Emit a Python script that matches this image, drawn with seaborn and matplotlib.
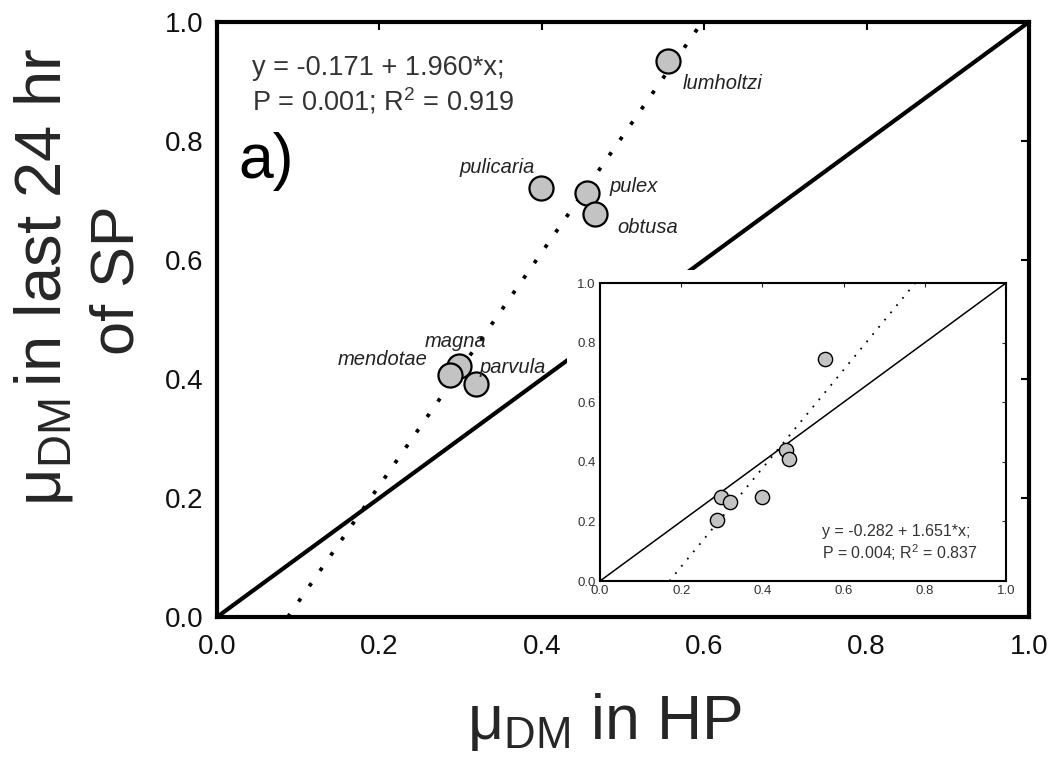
import numpy as np
import pandas as pd
import matplotlib
matplotlib.use("Agg")
import matplotlib.pyplot as plt
from matplotlib.patches import Rectangle
import seaborn as sns

# ---------------- data ----------------
species = ["lumholtzi", "pulicaria", "pulex", "obtusa", "magna", "mendotae", "parvula"]
hp_mu = [0.555, 0.399, 0.456, 0.466, 0.298, 0.287, 0.319]
sp_mu = [0.934, 0.721, 0.713, 0.677, 0.422, 0.407, 0.392]
main_intercept, main_slope = -0.171, 1.960

inset_x = [0.555, 0.457, 0.465, 0.400, 0.299, 0.321, 0.287]
inset_y = [0.744, 0.440, 0.409, 0.282, 0.282, 0.266, 0.205]
inset_intercept, inset_slope = -0.282, 1.651

one_to_one = [0.0, 1.0]
ticks = [0.0, 0.2, 0.4, 0.6, 0.8, 1.0]
tick_labels = ["0.0", "0.2", "0.4", "0.6", "0.8", "1.0"]

main_eq = "y = -0.171 + 1.960*x;\nP = 0.001; R$^2$ = 0.919"
inset_eq = "y = -0.282 + 1.651*x;\nP = 0.004; R$^2$ = 0.837"

# label offsets in pixels (dx, dy, ha)
label_offsets = {
    "lumholtzi": (15, -22, "left"),
    "pulicaria": (-81, 21, "left"),
    "pulex": (22, 6, "left"),
    "obtusa": (22, -13, "left"),
    "magna": (-34, 24, "left"),
    "mendotae": (-22, 15, "right"),
    "parvula": (3, 16, "left"),
}

# ---------------- style ----------------
sns.set_style("white")
plt.rcParams["font.family"] = ["Liberation Sans", "DejaVu Sans"]
plt.rcParams["mathtext.fontset"] = "custom"
plt.rcParams["mathtext.rm"] = "Liberation Sans"
plt.rcParams["mathtext.it"] = "Liberation Sans:italic"
plt.rcParams["mathtext.bf"] = "Liberation Sans:bold"

fig = plt.figure(figsize=(10.6, 7.6), dpi=100)
ax = fig.add_axes([217 / 1060, 1 - 617 / 760, 812 / 1060, 595 / 760])

main_df = pd.DataFrame({"hp": hp_mu, "sp": sp_mu, "species": species})

# 1:1 line
sns.lineplot(x=one_to_one, y=one_to_one, ax=ax, color="black", lw=3.0, zorder=2)
# regression line (dotted), within y in [0,1]
rx = np.array([(0 - main_intercept) / main_slope, (1 - main_intercept) / main_slope])
sns.lineplot(x=rx, y=main_intercept + main_slope * rx, ax=ax, color="black",
             lw=2.7, linestyle=(0, (1, 4)), zorder=2)
sns.scatterplot(data=main_df, x="hp", y="sp", ax=ax, s=300, color="#c3c3c3",
                edgecolor="black", linewidth=1.6, zorder=3, legend=False)

for name, x, y in zip(species, hp_mu, sp_mu):
    dx, dy, ha = label_offsets[name]
    ax.annotate(name, (x, y), xytext=(dx, dy), textcoords="offset pixels",
                ha=ha, va="center", fontsize=14.5, style="italic", color="#222222")

ax.set_xlim(0, 1)
ax.set_ylim(0, 1)
ax.set_xticks(ticks)
ax.set_yticks(ticks)
ax.set_xticklabels(tick_labels)
ax.set_yticklabels(tick_labels)
ax.tick_params(direction="in", length=6, width=1.5, top=True, right=True,
               labelsize=20, colors="black", labelcolor="#111111")
ax.tick_params(axis="y", pad=10)
ax.tick_params(axis="x", pad=12)
for sp_ in ax.spines.values():
    sp_.set_linewidth(3.0)
    sp_.set_color("black")
ax.set_xlabel("")
ax.set_ylabel("")

ax.text(0.043, 0.893, main_eq, transform=ax.transAxes, fontsize=19.5,
        color="#333333", ha="left", va="center", linespacing=1.2)
ax.text(0.026, 0.766, "a)", transform=ax.transAxes, fontsize=45,
        color="black", ha="left", va="center")

# axis titles
fig.text(605 / 1060, 1 - 722 / 760, r"$\mathregular{μ_{DM}}$ in HP", fontsize=45,
         ha="center", va="center")
fig.text(61 / 1060, 1 - 277 / 760, r"$\mathregular{μ_{DM}\,}$in last 24 hr",
         fontsize=47, ha="center", va="baseline", rotation=90,
         rotation_mode="anchor")
fig.text(134 / 1060, 1 - 280 / 760, "of SP",
         fontsize=44, ha="center", va="baseline", rotation=90,
         rotation_mode="anchor")

# ---------------- inset ----------------
ins = fig.add_axes([600 / 1060, 1 - 581 / 760, 406 / 1060, 298 / 760])
ins.set_facecolor("white")
# white backing panel that hides the main plot behind the inset and its labels
ins.add_patch(Rectangle((-0.082, -0.085), 1.115, 1.13, transform=ins.transAxes,
                        facecolor="white", edgecolor="none", clip_on=False, zorder=0.1))
sns.lineplot(x=one_to_one, y=one_to_one, ax=ins, color="black", lw=1.1, zorder=2)
irx = np.array([(0 - inset_intercept) / inset_slope, (1 - inset_intercept) / inset_slope])
sns.lineplot(x=irx, y=inset_intercept + inset_slope * irx, ax=ins, color="black",
             lw=1.3, linestyle=(0, (1, 4.2)), zorder=2)
sns.scatterplot(x=inset_x, y=inset_y, ax=ins, s=105, color="#c3c3c3",
                edgecolor="black", linewidth=1.0, zorder=3, legend=False)
ins.set_xlim(0, 1)
ins.set_ylim(0, 1)
ins.set_xticks(ticks)
ins.set_yticks(ticks)
ins.set_xticklabels(tick_labels)
ins.set_yticklabels(tick_labels)
ins.tick_params(direction="in", length=3, width=0.8, top=True, right=True,
                labelsize=9.5, labelcolor="#333333", pad=3)
for sp_ in ins.spines.values():
    sp_.set_linewidth(1.5)
    sp_.set_color("black")
ins.text(0.547, 0.125, inset_eq, transform=ins.transAxes, fontsize=11.5,
         color="#333333", ha="left", va="center", linespacing=1.2)

fig.savefig("out.png", dpi=100)
